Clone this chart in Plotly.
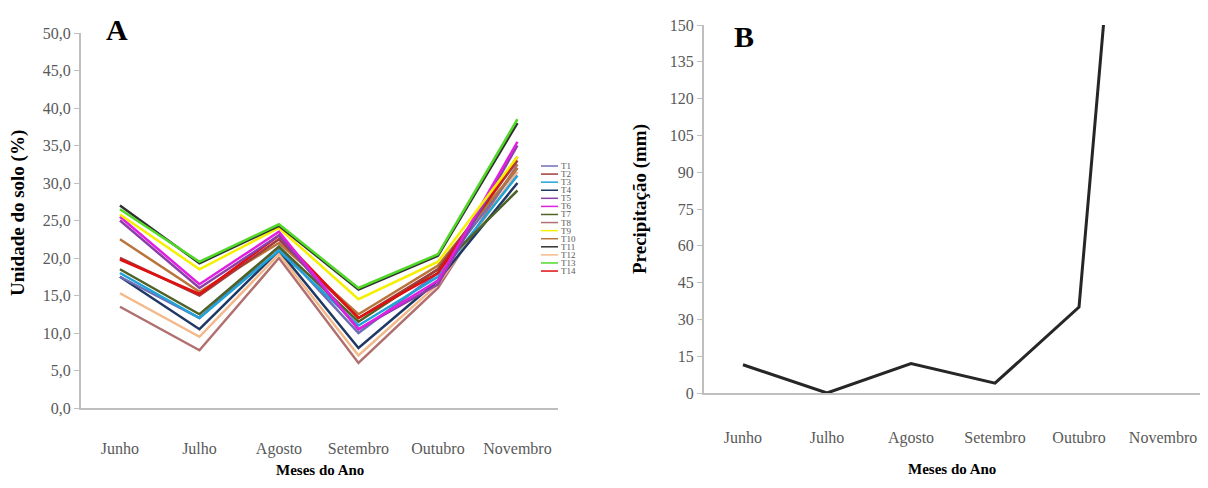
import plotly.graph_objects as go

months = ["Junho", "Julho", "Agosto", "Setembro", "Outubro", "Novembro"]
series_names = ["T1", "T2", "T3", "T4", "T5", "T6", "T7", "T8", "T9", "T10", "T11", "T12", "T13", "T14"]

T1 = [17.5, 12.0, 21.5, 10.0, 18.0, 32.0]
T2 = [20.0, 15.0, 22.5, 12.0, 18.5, 33.0]
T3 = [18.0, 12.0, 21.0, 11.0, 17.5, 31.0]
T4 = [17.5, 10.5, 21.0, 8.0, 17.0, 30.0]
T5 = [25.0, 16.0, 23.0, 10.5, 16.5, 35.0]
T6 = [25.5, 16.5, 23.5, 10.5, 17.0, 35.5]
T7 = [18.5, 12.5, 21.5, 11.5, 18.5, 29.0]
T8 = [13.5, 7.7, 20.0, 6.0, 16.0, 32.5]
T9 = [25.8, 18.5, 24.0, 14.5, 19.5, 33.5]
T10 = [22.5, 15.5, 22.0, 12.5, 19.0, 32.0]
T11 = [27.0, 19.3, 24.3, 15.8, 20.3, 38.0]
T12 = [15.3, 9.5, 20.5, 7.0, 16.5, 31.5]
T13 = [26.5, 19.5, 24.5, 16.0, 20.5, 38.5]
T14 = [19.8, 15.2, 23.0, 12.0, 18.0, 33.5]
soil_values = [T1, T2, T3, T4, T5, T6, T7, T8, T9, T10, T11, T12, T13, T14]

rain = [11.5, 0.0, 12.0, 4.0, 35.0, 430.0]

y_left_ticks = [0, 5, 10, 15, 20, 25, 30, 35, 40, 45, 50]
y_left_labels = ["0,0", "5,0", "10,0", "15,0", "20,0", "25,0", "30,0", "35,0", "40,0", "45,0", "50,0"]
y_right_ticks = [0, 15, 30, 45, 60, 75, 90, 105, 120, 135, 150]

colors = ["#6F6FB8", "#A33B3B", "#1FA3D8", "#1F3864", "#8B3FA8", "#E020E0", "#4F6228",
          "#B07070", "#F5F000", "#B8743A", "#303030", "#F4B98A", "#52D82A", "#E01010"]
# draw order: keep green on top
order = [7, 11, 3, 0, 2, 6, 9, 1, 13, 4, 5, 8, 10, 12]

# page body has an 8px margin: figure occupies 8..1200 x 8..480 of the window
OFF = 8
W, H = 1208 - 2 * OFF, 488 - 2 * OFF
def px(x):
    return (x - OFF) / W
def py(y):
    return 1 - (y - OFF) / H

fig = go.Figure()
xs = list(range(len(months)))
for i in order:
    fig.add_trace(go.Scatter(x=xs, y=soil_values[i], mode="lines", name=series_names[i],
                             line=dict(color=colors[i], width=2.5), xaxis="x", yaxis="y",
                             showlegend=False))
fig.add_trace(go.Scatter(x=xs, y=rain, mode="lines", name="Precipitação",
                         line=dict(color="#262626", width=3), xaxis="x2", yaxis="y2",
                         showlegend=False))

font = "Liberation Serif, Times New Roman, serif"
tickfont = dict(family=font, size=16, color="#595959")
axcol = "#BFBFBF"

fig.update_layout(
    width=W, height=H,
    margin=dict(l=0, r=0, t=0, b=0, autoexpand=False),
    paper_bgcolor="white", plot_bgcolor="white",
    xaxis=dict(domain=[px(81), px(558)], range=[-0.49, 5.51], tickvals=xs, ticktext=months,
               showgrid=False, zeroline=False, showline=True, linecolor=axcol, linewidth=2,
               ticks="", tickfont=tickfont, ticklabelstandoff=25, anchor="y", automargin=False),
    yaxis=dict(domain=[py(408), py(33)], range=[0, 50], tickvals=y_left_ticks, ticktext=y_left_labels,
               showgrid=False, zeroline=False, showline=True, linecolor=axcol, linewidth=2,
               ticks="outside", ticklen=5, tickcolor=axcol, tickfont=tickfont, anchor="x",
               automargin=False),
    xaxis2=dict(domain=[px(704), px(1200)], range=[-0.464, 5.44], tickvals=xs, ticktext=months,
                showgrid=False, zeroline=False, showline=True, linecolor=axcol, linewidth=2,
                ticks="", tickfont=tickfont, ticklabelstandoff=29, anchor="y2", automargin=False),
    yaxis2=dict(domain=[py(393), py(25)], range=[0, 150], tickvals=y_right_ticks,
                showgrid=False, zeroline=False, showline=True, linecolor=axcol, linewidth=2,
                ticks="outside", ticklen=5, tickcolor=axcol, tickfont=tickfont, anchor="x2",
                automargin=False),
)

def note(text, x, y, size, angle=0, color="black", xanchor="center"):
    return dict(text=text, x=px(x), y=py(y), xref="paper", yref="paper", showarrow=False,
                xanchor=xanchor, yanchor="middle", textangle=angle,
                font=dict(family=font, size=size, color=color))

ann = [
    note("<b>A</b>", 117, 30, 30),
    note("<b>B</b>", 744, 37, 30),
    note("<b>Unidade do solo (%)</b>", 18, 213, 19, angle=-90),
    note("<b>Precipitação (mm)</b>", 640, 199, 19, angle=-90),
    note("<b>Meses do Ano</b>", 320, 470, 15),
    note("<b>Meses do Ano</b>", 952, 469, 15),
]

shapes = []
for i, nm in enumerate(series_names):
    yy = 166 + i * 8.08
    shapes.append(dict(type="line", xref="paper", yref="paper", x0=px(541), x1=px(558),
                       y0=py(yy), y1=py(yy), line=dict(color=colors[i], width=1.5)))
    ann.append(note(nm, 559, yy, 9, color="#595959", xanchor="left"))

fig.update_layout(annotations=ann, shapes=shapes)
fig.write_html("out.html")
